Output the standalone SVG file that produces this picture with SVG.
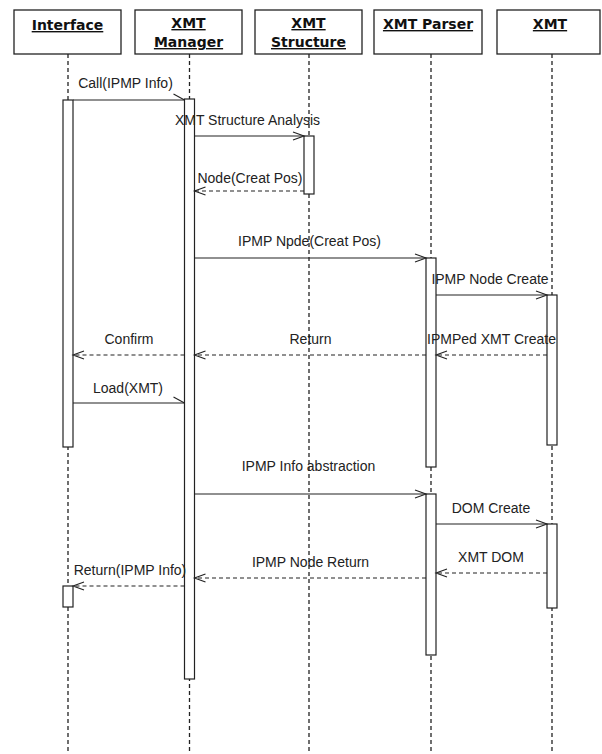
<svg xmlns="http://www.w3.org/2000/svg" width="602" height="754" viewBox="0 0 602 754">
<style>
.hdr{fill:#fff;stroke:#222;stroke-width:1.3}
.ht{font-family:"DejaVu Sans",sans-serif;font-weight:bold;font-size:14px;fill:#111;text-anchor:middle;text-decoration:underline}
.life{stroke:#222;stroke-width:1.3;stroke-dasharray:4,3;fill:none}
.bar{fill:#fff;stroke:#222;stroke-width:1.2}
.msg{stroke:#222;stroke-width:1.1;fill:none}
.ret{stroke:#222;stroke-width:1.1;fill:none;stroke-dasharray:4,3}
.lbl{font-family:"Liberation Sans",Arial,sans-serif;font-size:14px;fill:#222;text-anchor:middle}
</style>
<defs>
<marker id="open" markerUnits="userSpaceOnUse" markerWidth="14" markerHeight="12" refX="11" refY="4" orient="auto" overflow="visible">
<path d="M0,0 L11,4 L0,8" fill="none" stroke="#222" stroke-width="1.1"/>
</marker>
<marker id="half" markerUnits="userSpaceOnUse" markerWidth="14" markerHeight="12" refX="11" refY="6" orient="auto" overflow="visible">
<path d="M0,0 L11,6" fill="none" stroke="#222" stroke-width="1.1"/>
</marker>
</defs>
<rect width="602" height="754" fill="#fff"/>

<g id="interface">
<rect class="hdr" x="14" y="10" width="107" height="44"/>
<text class="ht" x="67.5" y="30">Interface</text>
<line class="life" x1="68" y1="54" x2="68" y2="754"/>
<rect class="bar" x="63" y="100" width="10" height="347"/>
<rect class="bar" x="63" y="586" width="10" height="21"/>
</g>

<g id="xmt-manager">
<rect class="hdr" x="135" y="10" width="107" height="44"/>
<text class="ht" x="188.5" y="28">XMT</text>
<text class="ht" x="188.5" y="47">Manager</text>
<line class="life" x1="189.5" y1="54" x2="189.5" y2="754"/>
<rect class="bar" x="184.5" y="99" width="10" height="580"/>
</g>

<g id="xmt-structure">
<rect class="hdr" x="255" y="10" width="107" height="44"/>
<text class="ht" x="308.5" y="28">XMT</text>
<text class="ht" x="308.5" y="47">Structure</text>
<line class="life" x1="309" y1="54" x2="309" y2="754"/>
<rect class="bar" x="304" y="136" width="10" height="58"/>
</g>

<g id="xmt-parser">
<rect class="hdr" x="374" y="10" width="108" height="44"/>
<text class="ht" x="428" y="29">XMT Parser</text>
<line class="life" x1="431" y1="54" x2="431" y2="754"/>
<rect class="bar" x="426" y="258" width="10" height="209"/>
<rect class="bar" x="426" y="494" width="10" height="161"/>
</g>

<g id="xmt">
<rect class="hdr" x="497" y="10" width="103" height="44"/>
<text class="ht" x="550" y="29">XMT</text>
<line class="life" x1="552" y1="54" x2="552" y2="754"/>
<rect class="bar" x="547" y="295" width="10" height="150"/>
<rect class="bar" x="547" y="524" width="10" height="84"/>
</g>

<g id="connectors">
<line class="msg" x1="73" y1="100" x2="184.5" y2="100" marker-end="url(#half)"/>
<text class="lbl" x="125.5" y="88">Call(IPMP Info)</text>

<line class="msg" x1="194.5" y1="136" x2="304" y2="136" marker-end="url(#open)"/>
<text class="lbl" x="247.5" y="125">XMT Structure Analysis</text>

<line class="ret" x1="304" y1="191" x2="194.5" y2="191" marker-end="url(#open)"/>
<text class="lbl" x="250" y="183">Node(Creat Pos)</text>

<line class="msg" x1="194.5" y1="258" x2="426" y2="258" marker-end="url(#open)"/>
<text class="lbl" x="309.5" y="246">IPMP Npde(Creat Pos)</text>

<line class="msg" x1="436" y1="295" x2="547" y2="295" marker-end="url(#open)"/>
<text class="lbl" x="490" y="284">IPMP Node Create</text>

<line class="ret" x1="547" y1="355" x2="436" y2="355" marker-end="url(#open)"/>
<text class="lbl" x="491.5" y="344">IPMPed XMT Create</text>

<line class="ret" x1="426" y1="355" x2="194.5" y2="355" marker-end="url(#open)"/>
<text class="lbl" x="310.5" y="344">Return</text>

<line class="ret" x1="184.5" y1="355" x2="73" y2="355" marker-end="url(#open)"/>
<text class="lbl" x="129" y="344">Confirm</text>

<line class="msg" x1="73" y1="403" x2="184.5" y2="403" marker-end="url(#half)"/>
<text class="lbl" x="128" y="393">Load(XMT)</text>

<line class="msg" x1="194.5" y1="494" x2="426" y2="494" marker-end="url(#open)"/>
<text class="lbl" x="308.5" y="471">IPMP Info abstraction</text>

<line class="msg" x1="436" y1="524" x2="547" y2="524" marker-end="url(#open)"/>
<text class="lbl" x="491" y="513">DOM Create</text>

<line class="ret" x1="547" y1="573" x2="436" y2="573" marker-end="url(#open)"/>
<text class="lbl" x="491" y="562">XMT DOM</text>

<line class="ret" x1="426" y1="578" x2="194.5" y2="578" marker-end="url(#open)"/>
<text class="lbl" x="310.5" y="567">IPMP Node Return</text>

<line class="ret" x1="184.5" y1="586" x2="73" y2="586" marker-end="url(#open)"/>
<text class="lbl" x="130" y="575">Return(IPMP Info)</text>
</g>
</svg>
